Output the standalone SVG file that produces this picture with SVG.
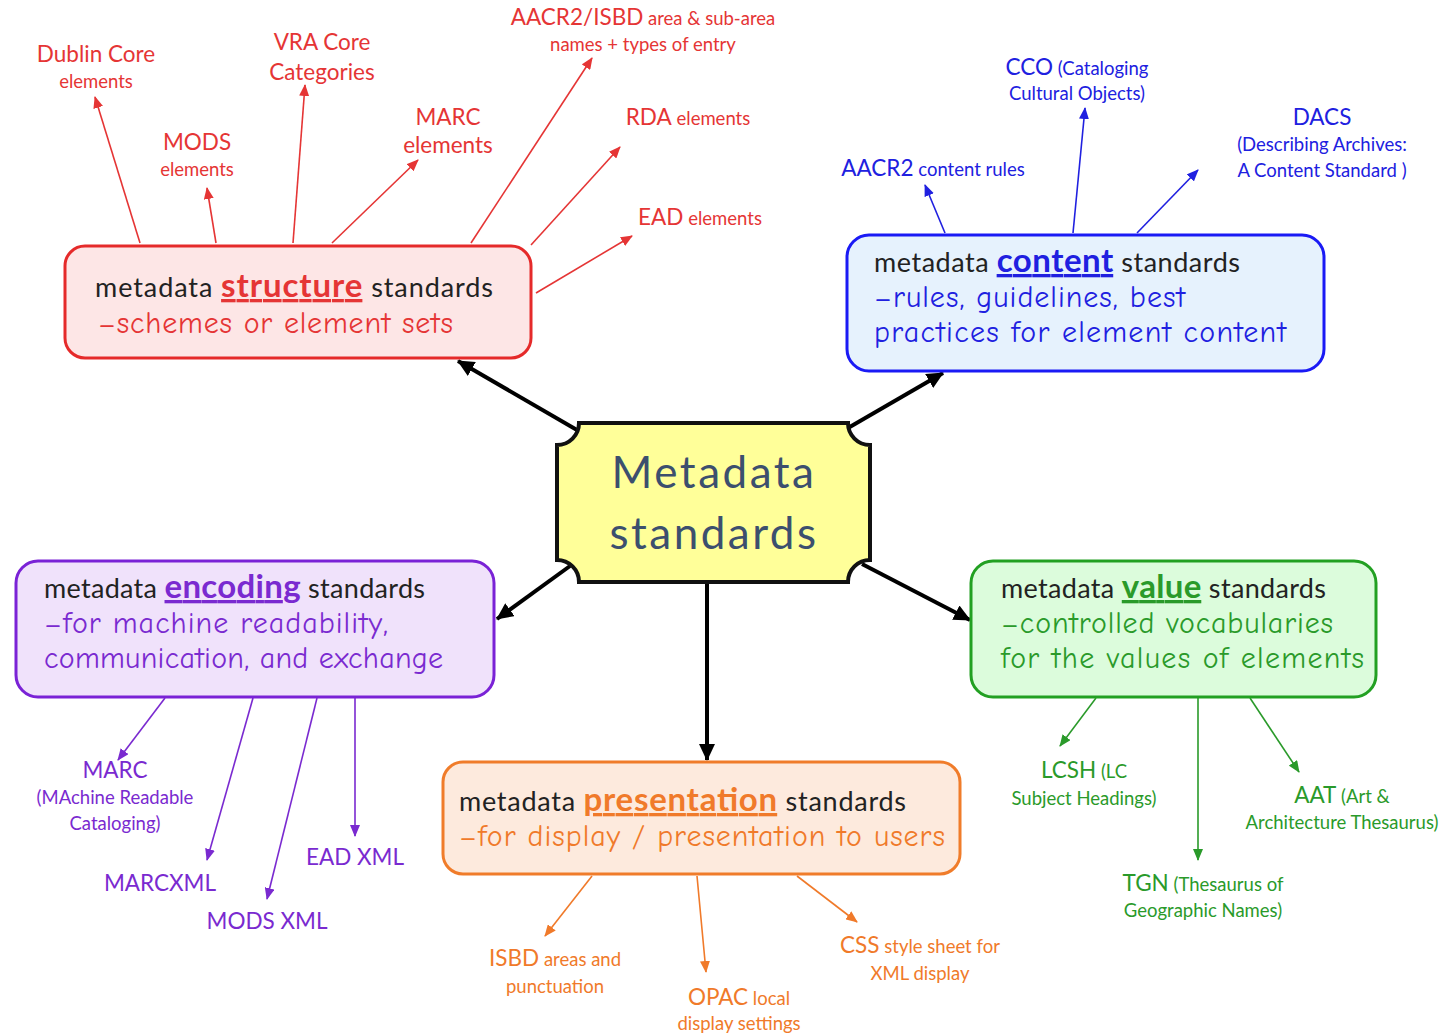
<svg xmlns="http://www.w3.org/2000/svg" width="1451" height="1033" viewBox="0 0 1451 1033">
<style>
.box{stroke-width:3}
.hd{font-family:Lato,"Noto Sans",sans-serif;font-size:27px;fill:#222}
.kw{font-weight:bold;font-size:33px;text-decoration:underline}
.sub{font-family:"Comic Neue","Comic Sans MS",Lato,sans-serif;font-size:30px}
.lb{font-family:Lato,"Noto Sans",sans-serif;font-size:18.5px;text-anchor:middle}
.lb .big{font-size:22.5px}
.red{fill:#e53535}.blue{fill:#2020e0}.pur{fill:#7a2ad0}.grn{fill:#2a9a2a}.org{fill:#f07a2a}
.cr{stroke:#e53535}.cb{stroke:#2020e0}.cp{stroke:#7a2ad0}.cg{stroke:#2a9a2a}.co{stroke:#f07a2a}
.thin{stroke-width:1.6;fill:none}
.thick{stroke:#000;stroke-width:4;fill:none}
</style>
<defs>
<marker id="mk" markerUnits="userSpaceOnUse" markerWidth="18" markerHeight="16" refX="16" refY="8" orient="auto"><path d="M0,0 L17,8 L0,16 Z" fill="#000"/></marker>
<marker id="mr" markerUnits="userSpaceOnUse" markerWidth="12" markerHeight="10" refX="11" refY="5" orient="auto"><path d="M0,0 L12,5 L0,10 Z" fill="#e53535"/></marker>
<marker id="mb" markerUnits="userSpaceOnUse" markerWidth="12" markerHeight="10" refX="11" refY="5" orient="auto"><path d="M0,0 L12,5 L0,10 Z" fill="#2020e0"/></marker>
<marker id="mp" markerUnits="userSpaceOnUse" markerWidth="12" markerHeight="10" refX="11" refY="5" orient="auto"><path d="M0,0 L12,5 L0,10 Z" fill="#7a2ad0"/></marker>
<marker id="mg" markerUnits="userSpaceOnUse" markerWidth="12" markerHeight="10" refX="11" refY="5" orient="auto"><path d="M0,0 L12,5 L0,10 Z" fill="#2a9a2a"/></marker>
<marker id="mo" markerUnits="userSpaceOnUse" markerWidth="12" markerHeight="10" refX="11" refY="5" orient="auto"><path d="M0,0 L12,5 L0,10 Z" fill="#f07a2a"/></marker>
</defs>
<rect width="1451" height="1033" fill="#fff"/>

<g id="connectors">
<line class="thick" x1="577" y1="430" x2="458" y2="361" marker-end="url(#mk)"/>
<line class="thick" x1="848" y1="428" x2="943" y2="373" marker-end="url(#mk)"/>
<line class="thick" x1="570" y1="566" x2="497" y2="619" marker-end="url(#mk)"/>
<line class="thick" x1="862" y1="564" x2="970" y2="620" marker-end="url(#mk)"/>
<line class="thick" x1="707" y1="584" x2="707" y2="760" marker-end="url(#mk)"/>

<line class="thin cr" x1="140" y1="243" x2="95" y2="97" marker-end="url(#mr)"/>
<line class="thin cr" x1="216" y1="243" x2="207" y2="188" marker-end="url(#mr)"/>
<line class="thin cr" x1="293" y1="243" x2="305" y2="85" marker-end="url(#mr)"/>
<line class="thin cr" x1="332" y1="243" x2="418" y2="160" marker-end="url(#mr)"/>
<line class="thin cr" x1="471" y1="243" x2="592" y2="58" marker-end="url(#mr)"/>
<line class="thin cr" x1="531" y1="245" x2="620" y2="147" marker-end="url(#mr)"/>
<line class="thin cr" x1="536" y1="293" x2="632" y2="236" marker-end="url(#mr)"/>

<line class="thin cb" x1="945" y1="233" x2="925" y2="185" marker-end="url(#mb)"/>
<line class="thin cb" x1="1073" y1="233" x2="1085" y2="108" marker-end="url(#mb)"/>
<line class="thin cb" x1="1137" y1="233" x2="1198" y2="170" marker-end="url(#mb)"/>

<line class="thin cp" x1="165" y1="698" x2="118" y2="760" marker-end="url(#mp)"/>
<line class="thin cp" x1="253" y1="698" x2="207" y2="860" marker-end="url(#mp)"/>
<line class="thin cp" x1="317" y1="698" x2="267" y2="899" marker-end="url(#mp)"/>
<line class="thin cp" x1="355" y1="698" x2="355" y2="836" marker-end="url(#mp)"/>

<line class="thin co" x1="592" y1="876" x2="545" y2="936" marker-end="url(#mo)"/>
<line class="thin co" x1="697" y1="876" x2="706" y2="972" marker-end="url(#mo)"/>
<line class="thin co" x1="797" y1="876" x2="857" y2="922" marker-end="url(#mo)"/>

<line class="thin cg" x1="1096" y1="698" x2="1060" y2="746" marker-end="url(#mg)"/>
<line class="thin cg" x1="1198" y1="698" x2="1198" y2="860" marker-end="url(#mg)"/>
<line class="thin cg" x1="1250" y1="698" x2="1299" y2="772" marker-end="url(#mg)"/>
</g>

<g id="center">
<path d="M579,423 L848,423 A22,22 0 0 0 870,445 L870,560 A22,22 0 0 0 848,582 L579,582 A22,22 0 0 0 557,560 L557,445 A22,22 0 0 0 579,423 Z" fill="#ffff99" stroke="#111" stroke-width="4"/>
<text x="714" y="488" text-anchor="middle" font-family="Lato,'Noto Sans',sans-serif" font-size="44" fill="#3c4f6e" letter-spacing="2.5">Metadata</text>
<text x="714" y="549" text-anchor="middle" font-family="Lato,'Noto Sans',sans-serif" font-size="44" fill="#3c4f6e" letter-spacing="2.5">standards</text>
</g>

<g id="structure">
<rect class="box" x="65" y="246" width="466" height="112" rx="20" fill="#fde6e6" stroke="#e52a2a"/>
<text class="hd" x="95" y="297" textLength="398">metadata <tspan class="kw red">structure</tspan> standards</text>
<text class="sub red" x="98" y="333" textLength="355">–schemes or element sets</text>
</g>

<g id="content">
<rect class="box" x="847" y="235" width="477" height="136" rx="22" fill="#e6f2fd" stroke="#1a1af5"/>
<text class="hd" x="874" y="272" textLength="366">metadata <tspan class="kw blue">content</tspan> standards</text>
<text class="sub blue" x="874" y="307" textLength="311">–rules, guidelines, best</text>
<text class="sub blue" x="874" y="342" textLength="412">practices for element content</text>
</g>

<g id="encoding">
<rect class="box" x="16" y="561" width="478" height="136" rx="22" fill="#f0e2fb" stroke="#7a22d6"/>
<text class="hd" x="44" y="598" textLength="381">metadata <tspan class="kw pur">encoding</tspan> standards</text>
<text class="sub pur" x="44" y="633" textLength="344">–for machine readability,</text>
<text class="sub pur" x="44" y="668" textLength="399">communication, and exchange</text>
</g>

<g id="value">
<rect class="box" x="971" y="561" width="405" height="136" rx="22" fill="#dcfcdc" stroke="#22a022"/>
<text class="hd" x="1001" y="598" textLength="325">metadata <tspan class="kw grn">value</tspan> standards</text>
<text class="sub grn" x="1001" y="633" textLength="332">–controlled vocabularies</text>
<text class="sub grn" x="1001" y="668" textLength="363">for the values of elements</text>
</g>

<g id="presentation">
<rect class="box" x="443" y="762" width="517" height="112" rx="20" fill="#fdeadd" stroke="#f07c2a"/>
<text class="hd" x="459" y="811" textLength="447">metadata <tspan class="kw org">presentation</tspan> standards</text>
<text class="sub org" x="459" y="846" textLength="486">–for display / presentation to users</text>
</g>

<g id="labels-structure" class="red">
<text class="lb" x="96" y="62"><tspan class="big">Dublin Core</tspan></text>
<text class="lb" x="96" y="88">elements</text>
<text class="lb" x="197" y="150"><tspan class="big">MODS</tspan></text>
<text class="lb" x="197" y="176">elements</text>
<text class="lb" x="322" y="50"><tspan class="big">VRA Core</tspan></text>
<text class="lb" x="322" y="80"><tspan class="big">Categories</tspan></text>
<text class="lb" x="448" y="125"><tspan class="big">MARC</tspan></text>
<text class="lb" x="448" y="153"><tspan class="big">elements</tspan></text>
<text class="lb" x="643" y="25"><tspan class="big">AACR2/ISBD</tspan> area &amp; sub-area</text>
<text class="lb" x="643" y="51">names + types of entry</text>
<text class="lb" x="688" y="125"><tspan class="big">RDA</tspan> elements</text>
<text class="lb" x="700" y="225"><tspan class="big">EAD</tspan> elements</text>
</g>

<g id="labels-content" class="blue">
<text class="lb" x="933" y="176"><tspan class="big">AACR2</tspan> content rules</text>
<text class="lb" x="1077" y="75"><tspan class="big">CCO</tspan> (Cataloging</text>
<text class="lb" x="1077" y="100">Cultural Objects)</text>
<text class="lb" x="1322" y="125"><tspan class="big">DACS</tspan></text>
<text class="lb" x="1322" y="151">(Describing Archives:</text>
<text class="lb" x="1322" y="177">A Content Standard )</text>
</g>

<g id="labels-encoding" class="pur">
<text class="lb" x="115" y="778"><tspan class="big">MARC</tspan></text>
<text class="lb" x="115" y="804">(MAchine Readable</text>
<text class="lb" x="115" y="830">Cataloging)</text>
<text class="lb" x="160" y="891"><tspan class="big">MARCXML</tspan></text>
<text class="lb" x="267" y="929"><tspan class="big">MODS XML</tspan></text>
<text class="lb" x="355" y="865"><tspan class="big">EAD XML</tspan></text>
</g>

<g id="labels-presentation" class="org">
<text class="lb" x="555" y="966"><tspan class="big">ISBD</tspan> areas and</text>
<text class="lb" x="555" y="993">punctuation</text>
<text class="lb" x="739" y="1005"><tspan class="big">OPAC</tspan> local</text>
<text class="lb" x="739" y="1030">display settings</text>
<text class="lb" x="920" y="953"><tspan class="big">CSS</tspan> style sheet for</text>
<text class="lb" x="920" y="980">XML display</text>
</g>

<g id="labels-value" class="grn">
<text class="lb" x="1084" y="778"><tspan class="big">LCSH</tspan> (LC</text>
<text class="lb" x="1084" y="805">Subject Headings)</text>
<text class="lb" x="1342" y="803"><tspan class="big">AAT</tspan> (Art &amp;</text>
<text class="lb" x="1342" y="829">Architecture Thesaurus)</text>
<text class="lb" x="1203" y="891"><tspan class="big">TGN</tspan> (Thesaurus of</text>
<text class="lb" x="1203" y="917">Geographic Names)</text>
</g>
</svg>
